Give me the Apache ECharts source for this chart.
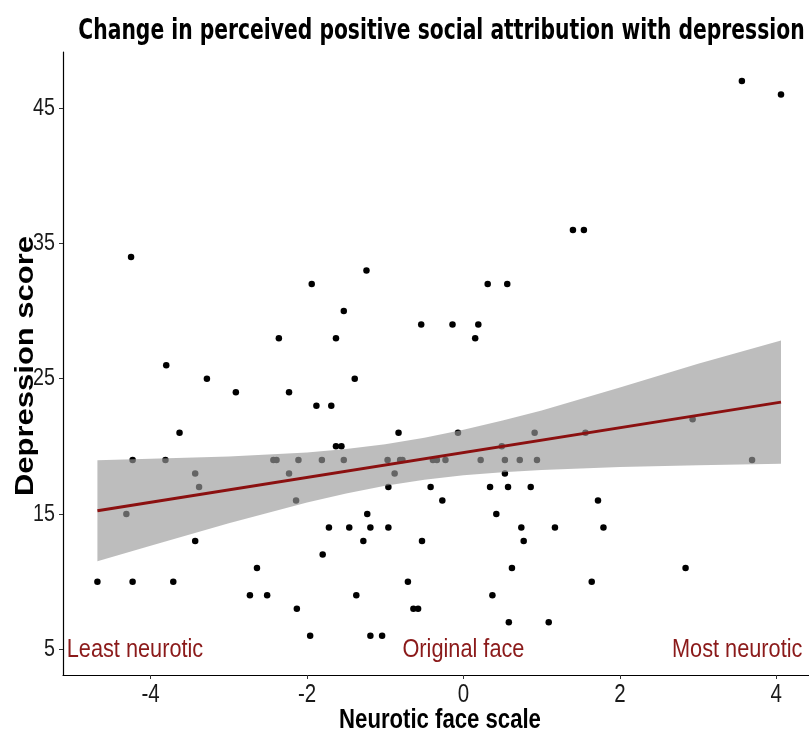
<!DOCTYPE html>
<html><head><meta charset="utf-8">
<script src="https://cdn.jsdelivr.net/npm/echarts@6/dist/echarts.min.js"></script>
<style>html,body{margin:0;padding:0;background:#fff}#c{width:809px;height:738px}</style>
</head><body><div id="c"></div>
<script>
// Neurotic face scale (x) and depression score (y) for each participant
const pointX = [-4.25, 3.56, 4.06, 1.40, 1.54, -1.94, -2.36, -3.80, -3.28, -2.91, -2.23, -1.88, -3.63,
  -4.23, -3.81, -2.43, -2.39, -2.11, -1.24, -1.53, -1.63, -1.39, -1.69, -0.83, -1.63, -1.56,
  -0.54, -0.14, 0.19, 0.15, 0.31, 0.56, -0.07, 0.91, 0.49,
  -1.81, -1.53, -0.97, -0.81, -0.78, -0.39, -0.34, -0.23, 0.22, 0.53, 0.72, 0.94,
  1.56, 2.93, 3.69, -3.43, -3.38, -4.31, -2.23, -2.14, -3.43, -4.68, -4.23, -3.71, -2.64,
  -2.73, -2.51, -2.13, -1.96, -0.88, 0.53, -0.96, -0.42, 0.34, 0.57, 0.86, -0.27,
  -1.23, 0.42, -1.72, -1.46, -1.19, -0.96, 0.74, 1.17, -1.28, -0.53, 0.77, -1.80,
  0.62, -0.71, -1.37, 0.37, -0.64, -0.58, 0.58, 1.09, -1.19, -1.04, 1.72, 1.79, 2.84, 1.64];
const pointY = [34, 47, 46, 36, 36, 32, 28, 26, 25, 24, 24, 23, 21,
  19, 19, 19, 19, 19, 33, 30, 28, 25, 23, 21, 20, 20,
  29, 29, 29, 28, 32, 32, 21, 21, 20,
  19, 19, 19, 19, 19, 19, 19, 19, 19, 19, 19, 19,
  21, 22, 19, 18, 17, 15, 18, 16, 13, 10, 10, 10, 11,
  9, 9, 8, 6, 18, 18, 17, 17, 17, 17, 17, 16,
  15, 15, 14, 14, 14, 14, 14, 14, 13, 13, 13, 12,
  11, 10, 9, 9, 8, 8, 7, 7, 6, 6, 16, 14, 11, 10];

// Linear fit line and its confidence band
const fitX = [-4.68, 4.06];
const fitY = [15.24, 23.27];
const bandX = [-4.68, -4.0, -3.0, -2.0, -1.5, -1.0, -0.5, 0.0, 0.5, 1.0, 2.0, 3.0, 4.06];
const bandLower = [11.50, 12.66, 14.32, 15.85, 16.52, 17.09, 17.53, 17.86, 18.09, 18.26, 18.48, 18.61, 18.72];
const bandUpper = [18.98, 19.08, 19.26, 19.55, 19.80, 20.15, 20.63, 21.22, 21.91, 22.66, 24.35, 26.10, 27.82];

const xTicks = [-4, -2, 0, 2, 4];
const yTicks = [5, 15, 25, 35, 45];

const annotX = [-4.2, 0, 3.5];
const annotY = [5, 5, 5];
const annotText = ['Least neurotic', 'Original face', 'Most neurotic'];

const X_MIN = -5.12, X_MAX = 4.418, Y_MIN = 3.1, Y_MAX = 49.15;
const NARROW = 0.82;

const chart = echarts.init(document.getElementById('c'));
const points = pointX.map((x, i) => [x, pointY[i]]);

function textItem(pt, text, font, color, align, vAlign, dx, dy) {
  return {type: 'text', x: pt[0] + dx, y: pt[1] + dy, scaleX: NARROW,
    style: {text: text, font: font, fill: color, align: align, verticalAlign: vAlign,
      textAlign: align, textVerticalAlign: vAlign}};
}

chart.setOption({
  animation: false,
  backgroundColor: '#fff',
  grid: {left: 63, right: 0, top: 52, bottom: 63},
  xAxis: {
    type: 'value', min: X_MIN, max: X_MAX,
    axisLine: {show: true, onZero: false, lineStyle: {color: '#000', width: 1.2}},
    axisTick: {show: true, customValues: xTicks, length: 4, lineStyle: {color: '#333'}},
    axisLabel: {show: false},
    splitLine: {show: false}
  },
  yAxis: {
    type: 'value', min: Y_MIN, max: Y_MAX,
    axisLine: {show: true, onZero: false, lineStyle: {color: '#000', width: 1.2}},
    axisTick: {show: true, customValues: yTicks, length: 4, lineStyle: {color: '#333'}},
    axisLabel: {show: false},
    splitLine: {show: false}
  },
  graphic: [
    {type: 'text', x: 441.5, y: 31, scaleX: 0.70,
     style: {text: 'Change in perceived positive social attribution with depression',
       font: 'bold 29px "DejaVu Sans"', fill: '#000', align: 'center', verticalAlign: 'middle',
       textAlign: 'center', textVerticalAlign: 'middle'}},
    {type: 'text', x: 26, y: 366, rotation: Math.PI / 2, scaleY: 0.82,
     style: {text: 'Depression score', font: 'bold 31px "Liberation Sans"', fill: '#000',
       align: 'center', verticalAlign: 'middle', textAlign: 'center', textVerticalAlign: 'middle'}},
    {type: 'text', x: 440, y: 721, scaleX: NARROW,
     style: {text: 'Neurotic face scale', font: 'bold 27px "Liberation Sans"', fill: '#000',
       align: 'center', verticalAlign: 'middle', textAlign: 'center', textVerticalAlign: 'middle'}}
  ],
  series: [
    {type: 'scatter', data: points, symbolSize: 6.5, itemStyle: {color: '#000', opacity: 1}, z: 2, silent: true},
    {type: 'custom', z: 3, silent: true, data: [[bandX[0], bandLower[0]]],
     renderItem: function (params, api) {
       const pts = [];
       for (let i = 0; i < bandX.length; i++) pts.push(api.coord([bandX[i], bandUpper[i]]));
       for (let i = bandX.length - 1; i >= 0; i--) pts.push(api.coord([bandX[i], bandLower[i]]));
       return {type: 'polygon', shape: {points: pts}, style: {fill: 'rgba(153,153,153,0.65)'}};
     }},
    {type: 'line', z: 4, silent: true, data: fitX.map((x, i) => [x, fitY[i]]), symbol: 'none',
     lineStyle: {color: '#8B1010', width: 3}},
    // x tick labels
    {type: 'custom', z: 6, silent: true, clip: false, data: xTicks.map(v => [v, Y_MIN]),
     renderItem: function (params, api) {
       const v = xTicks[params.dataIndex];
       return textItem(api.coord([v, Y_MIN]), String(v), '25px "Liberation Sans"', '#1a1a1a', 'center', 'top', 0, 8);
     }},
    // y tick labels
    {type: 'custom', z: 6, silent: true, clip: false, data: yTicks.map(v => [X_MIN, v]),
     renderItem: function (params, api) {
       const v = yTicks[params.dataIndex];
       return textItem(api.coord([X_MIN, v]), String(v), '24px "Liberation Sans"', '#1a1a1a', 'right', 'middle', -8, 0);
     }},
    // annotations
    {type: 'custom', z: 6, silent: true, clip: false, data: annotX.map((x, i) => [x, annotY[i]]),
     renderItem: function (params, api) {
       const i = params.dataIndex;
       return textItem(api.coord([annotX[i], annotY[i]]), annotText[i], '26.5px "Liberation Sans"', '#8B1A1A', 'center', 'middle', 0, 0);
     }}
  ]
});
</script></body></html>
